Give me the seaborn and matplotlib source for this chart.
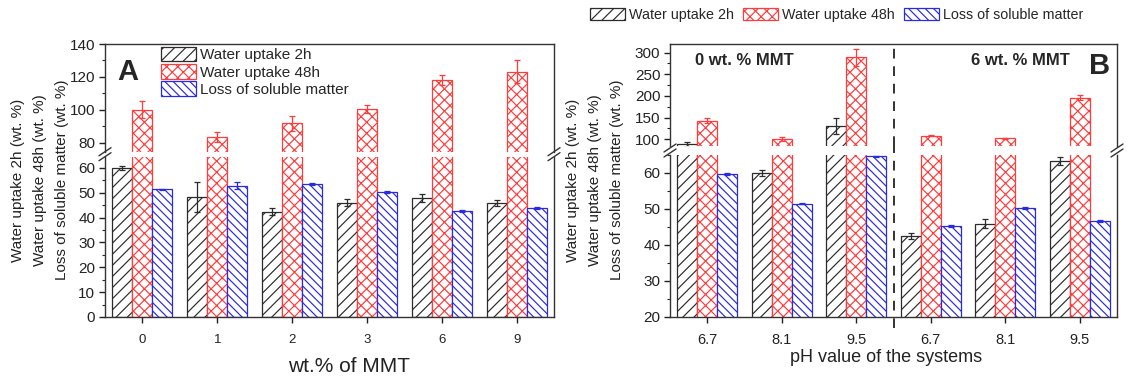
import matplotlib
matplotlib.use('Agg')
import matplotlib.pyplot as plt
from matplotlib.patches import Patch
from matplotlib.lines import Line2D
from matplotlib.ticker import MultipleLocator
import numpy as np
import pandas as pd
import seaborn as sns

seriesNames = ['Water uptake 2h', 'Water uptake 48h', 'Loss of soluble matter']

# panel A : wt.% of MMT
mmtLabels = ['0', '1', '2', '3', '6', '9']
mmtUptake2h = [60.0, 48.3, 42.4, 46.0, 47.8, 45.8]
mmtUptake2hErr = [0.8, 6.0, 1.5, 1.3, 1.6, 1.2]
mmtUptake48h = [100.2, 83.5, 91.8, 100.8, 118.0, 123.3]
mmtUptake48hErr = [5.0, 3.0, 4.5, 2.5, 3.0, 7.0]
mmtLoss = [51.4, 52.8, 53.6, 50.3, 42.7, 43.8]
mmtLossErr = [0.3, 1.4, 0.3, 0.3, 0.3, 0.3]

# panel B : pH value, 0 wt.% MMT then 6 wt.% MMT
phLabels = ['6.7', '8.1', '9.5', '6.7', '8.1', '9.5']
phUptake2h = [88.0, 60.0, 131.0, 42.5, 45.9, 63.3]
phUptake2hErr = [5.0, 0.8, 18.0, 0.8, 1.3, 1.2]
phUptake48h = [143.0, 101.0, 289.0, 108.0, 102.0, 196.0]
phUptake48hErr = [6.0, 4.0, 20.0, 1.5, 2.0, 6.0]
phLoss = [59.8, 51.5, 64.6, 45.2, 50.3, 46.6]
phLossErr = [0.3, 0.2, 0.2, 0.2, 0.2, 0.3]

edgeColors = ['#2b2b2b', '#ff3b3b', '#2a2ae0']
hatchList = ['///', 'xxx', '\\\\\\\\']

sns.set_style('ticks')
plt.rcParams['font.family'] = ['Liberation Sans', 'DejaVu Sans']
plt.rcParams['hatch.linewidth'] = 0.85
plt.rcParams['axes.edgecolor'] = '#333333'
plt.rcParams['axes.linewidth'] = 1.0

W, H = 1131, 382
fig = plt.figure(figsize=(W / 100, H / 100), dpi=100)


def fpos(left, top, right, bottom):
    return [left / W, 1 - bottom / H, (right - left) / W, (bottom - top) / H]


def make_df(labels, v2h, v48h, vLoss):
    keys = ['c%d' % i for i in range(len(labels))]
    rows = []
    for k, a, b, c in zip(keys, v2h, v48h, vLoss):
        rows.append([k, seriesNames[0], a])
        rows.append([k, seriesNames[1], b])
        rows.append([k, seriesNames[2], c])
    return keys, pd.DataFrame(rows, columns=['cat', 'series', 'value'])


def draw_bars(ax, keys, df, errs):
    sns.barplot(data=df, x='cat', y='value', hue='series', order=keys,
                hue_order=seriesNames, ax=ax, legend=False, errorbar=None,
                width=0.8, saturation=1)
    barConts = list(ax.containers)
    for i, cont in enumerate(barConts):
        xs = []
        ys = []
        for p in cont.patches:
            p.set_facecolor('white')
            p.set_edgecolor(edgeColors[i])
            p.set_hatch(hatchList[i])
            p.set_linewidth(0.9)
            xs.append(p.get_x() + p.get_width() / 2)
            ys.append(p.get_height())
        ax.errorbar(xs, ys, yerr=errs[i], fmt='none', ecolor=edgeColors[i],
                    elinewidth=0.9, capsize=2.5, capthick=0.9, zorder=5)


def style_pair(axTop, axBot, labels, ylimTop, ylimBot, majTop, minTop, majBot, minBot, xfs):
    for ax in (axTop, axBot):
        ax.set_xlim(-0.5, len(labels) - 0.5)
        ax.set_xlabel('')
        ax.set_ylabel('')
        ax.tick_params(axis='y', direction='out', length=4, width=1, labelsize=11, pad=3, colors='#222222')
        ax.tick_params(axis='y', which='minor', direction='out', length=2, width=0.8)
        ax.spines['right'].set_visible(True)
    axTop.set_ylim(*ylimTop)
    axBot.set_ylim(*ylimBot)
    axTop.yaxis.set_major_locator(MultipleLocator(majTop))
    axTop.yaxis.set_minor_locator(MultipleLocator(minTop))
    axBot.yaxis.set_major_locator(MultipleLocator(majBot))
    axBot.yaxis.set_minor_locator(MultipleLocator(minBot))
    axTop.spines['bottom'].set_visible(False)
    axTop.spines['top'].set_visible(True)
    axTop.tick_params(axis='x', bottom=False, labelbottom=False)
    axBot.spines['top'].set_visible(False)
    axBot.set_xticks(range(len(labels)))
    axBot.set_xticklabels(labels)
    axBot.tick_params(axis='x', direction='out', length=4, width=1, labelsize=xfs, pad=8, colors='#222222')


def draw_breaks(axTop, axBot):
    pTop = axTop.get_position()
    pBot = axBot.get_position()
    yMid = (pTop.y0 + pBot.y1) / 2
    for x in (pBot.x0, pBot.x1):
        for dy in (-2.5, 2.5):
            fig.add_artist(Line2D([x - 6 / W, x + 6 / W],
                                  [yMid + (dy - 4) / H, yMid + (dy + 4) / H],
                                  color='#333333', lw=1.0, transform=fig.transFigure))


def legend_handles():
    return [Patch(facecolor='white', edgecolor=edgeColors[i], hatch=hatchList[i], linewidth=0.9)
            for i in range(3)]


# ---------------- panel A ----------------
axAt = fig.add_axes(fpos(105, 44, 554, 151.7))
axAb = fig.add_axes(fpos(105, 156.7, 554, 317))
keysA, dfA = make_df(mmtLabels, mmtUptake2h, mmtUptake48h, mmtLoss)
errsA = [mmtUptake2hErr, mmtUptake48hErr, mmtLossErr]
for ax in (axAt, axAb):
    draw_bars(ax, keysA, dfA, errsA)
style_pair(axAt, axAb, mmtLabels, (74.7, 140), (0, 64.5), 20, 10, 10, 5, 9.5)
draw_breaks(axAt, axAb)
axAt.text(0.027, 0.666, 'A', transform=axAt.transAxes, fontsize=21, fontweight='bold', va='baseline', ha='left')
axAt.legend(legend_handles(), seriesNames, loc='upper left', bbox_to_anchor=(0.124, 0.975),
            frameon=False, fontsize=11, handlelength=2.3, handleheight=1.1, handletextpad=0.3,
            labelspacing=0.12, borderpad=0, borderaxespad=0)

# ---------------- panel B ----------------
axBt = fig.add_axes(fpos(670, 44, 1117, 146))
axBb = fig.add_axes(fpos(670, 155, 1117, 316.7))
keysB, dfB = make_df(phLabels, phUptake2h, phUptake48h, phLoss)
errsB = [phUptake2hErr, phUptake48hErr, phLossErr]
for ax in (axBt, axBb):
    draw_bars(ax, keysB, dfB, errsB)
style_pair(axBt, axBb, phLabels, (84.5, 320), (20, 65), 50, 25, 10, 5, 10.5)
draw_breaks(axBt, axBb)
axBt.axvline(2.5, color='#333333', lw=1.4, ls=(0, (5, 4)), zorder=6)
axBb.axvline(2.5, ymin=-0.07, ymax=1.06, color='#333333', lw=1.4, ls=(0, (5, 4)), clip_on=False, zorder=6)
axBt.text(0.056, 0.835, '0 wt. % MMT', transform=axBt.transAxes, fontsize=12, fontweight='bold', va='center', ha='left')
axBt.text(0.8935, 0.835, '6 wt. % MMT', transform=axBt.transAxes, fontsize=12, fontweight='bold', va='center', ha='right')
axBt.text(0.984, 0.703, 'B', transform=axBt.transAxes, fontsize=21, fontweight='bold', va='baseline', ha='right')
fig.legend(legend_handles(), seriesNames, loc='center left', bbox_to_anchor=(590 / W, 1 - 15 / H),
           ncol=3, frameon=False, fontsize=10.3, handlelength=2.45, handleheight=0.85,
           handletextpad=0.3, columnspacing=0.6, borderpad=0, borderaxespad=0)

# axis labels
yLines = ['Water uptake 2h (wt. %)', 'Water uptake 48h (wt. %)', 'Loss of soluble matter (wt. %)']
for xs in ([18, 40, 62], [573, 595, 617]):
    for xp, txt in zip(xs, yLines):
        fig.text(xp / W, 1 - 180 / H, txt, rotation=90, ha='center', va='center', fontsize=11, color='#222222')
fig.text(349 / W, 1 - 366 / H, 'wt.% of MMT', ha='center', va='center', fontsize=15, color='#222222')
fig.text(886 / W, 1 - 358 / H, 'pH value of the systems', ha='center', va='center', fontsize=13, color='#222222')

fig.savefig('out.png', dpi=100)
